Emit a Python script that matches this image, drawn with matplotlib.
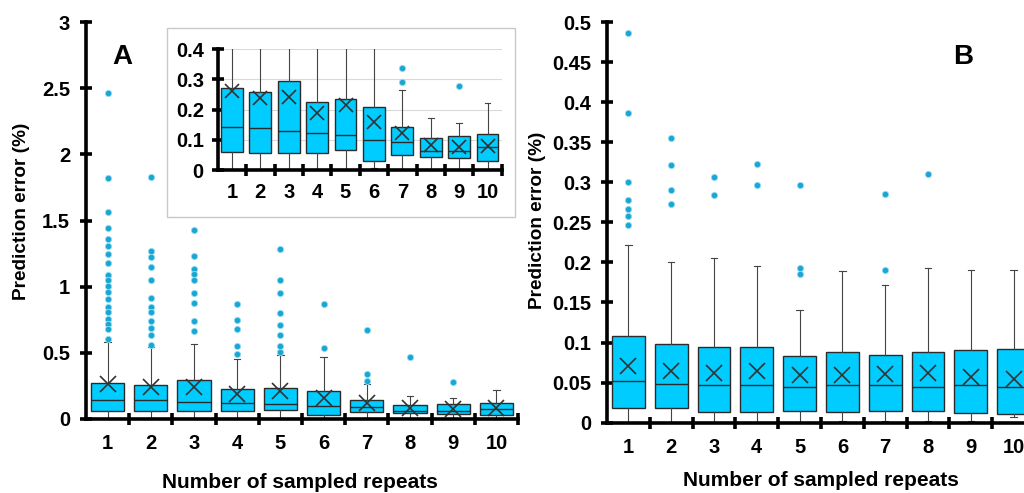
import matplotlib
matplotlib.use("Agg")
import matplotlib.pyplot as plt
from matplotlib.patches import Rectangle
from matplotlib.ticker import FixedLocator

plt.rcParams['font.family'] = ['Liberation Sans', 'DejaVu Sans']
plt.rcParams['font.weight'] = 'bold'

categories = [1, 2, 3, 4, 5, 6, 7, 8, 9, 10]

# Panel A statistics (prediction error, %)
a_q1 = [0.061, 0.057, 0.057, 0.057, 0.066, 0.031, 0.050, 0.043, 0.039, 0.031]
a_med = [0.143, 0.140, 0.130, 0.121, 0.117, 0.100, 0.091, 0.063, 0.063, 0.077]
a_q3 = [0.270, 0.257, 0.295, 0.226, 0.235, 0.208, 0.143, 0.105, 0.112, 0.118]
a_mean = [0.262, 0.239, 0.240, 0.187, 0.214, 0.160, 0.121, 0.083, 0.077, 0.080]
a_whislo = [0.0, 0.0, 0.0, 0.0, 0.0, 0.005, 0.0, 0.0, 0.0, 0.0]
a_whishi = [0.58, 0.545, 0.569, 0.457, 0.485, 0.47, 0.264, 0.171, 0.156, 0.220]
a_fliers = [
    [2.46, 1.82, 1.563, 1.442, 1.363, 1.305, 1.249, 1.180, 1.091, 1.051, 1.003,
     0.957, 0.906, 0.850, 0.805, 0.759, 0.718, 0.678, 0.607],
    [1.83, 1.266, 1.223, 1.152, 1.051, 0.911, 0.850, 0.810, 0.739, 0.688, 0.637, 0.558],
    [1.431, 1.231, 1.135, 1.094, 1.051, 0.949, 0.878, 0.739, 0.668],
    [0.868, 0.749, 0.680, 0.548, 0.490],
    [1.282, 1.051, 0.949, 0.799, 0.708, 0.637, 0.548, 0.505],
    [0.868, 0.538],
    [0.670, 0.337, 0.290],
    [0.467],
    [0.277],
    [],
]

# Panel B statistics (prediction error, %)
b_q1 = [0.0185, 0.0185, 0.0136, 0.0136, 0.0152, 0.0136, 0.0152, 0.0152, 0.012, 0.0107]
b_med = [0.052, 0.048, 0.0465, 0.0465, 0.045, 0.0465, 0.0465, 0.045, 0.0465, 0.045]
b_q3 = [0.108, 0.098, 0.095, 0.095, 0.0835, 0.0885, 0.085, 0.0885, 0.0905, 0.092]
b_mean = [0.071, 0.064, 0.062, 0.064, 0.059, 0.059, 0.061, 0.062, 0.057, 0.055]
b_whislo = [0.0, 0.0, 0.0, 0.0, 0.0, 0.002, 0.002, 0.002, 0.002, 0.0066]
b_whishi = [0.222, 0.201, 0.206, 0.195, 0.141, 0.189, 0.172, 0.193, 0.190, 0.190]
b_fliers = [
    [0.486, 0.386, 0.300, 0.278, 0.267, 0.258, 0.247],
    [0.355, 0.321, 0.290, 0.273],
    [0.307, 0.284],
    [0.323, 0.297],
    [0.297, 0.193, 0.186],
    [],
    [0.285, 0.191],
    [0.310],
    [],
    [],
]

a_yticks = [0, 0.5, 1, 1.5, 2, 2.5, 3]
a_yticklabels = ['0', '0.5', '1', '1.5', '2', '2.5', '3']
inset_yticks = [0, 0.1, 0.2, 0.3, 0.4]
inset_yticklabels = ['0', '0.1', '0.2', '0.3', '0.4']
b_yticks = [0, 0.05, 0.1, 0.15, 0.2, 0.25, 0.3, 0.35, 0.4, 0.45, 0.5]
b_yticklabels = ['0', '0.05', '0.1', '0.15', '0.2', '0.25', '0.3', '0.35', '0.4', '0.45', '0.5']

BOX_COLOR = '#00CCFF'
EDGE = '#2b2b2b'
FLIER_COLOR = '#1AA6D2'
TICK_FS = 14.5


def make_stats(q1, med, q3, mean, wlo, whi, fliers):
    stats = []
    for i in range(len(q1)):
        stats.append(dict(q1=q1[i], med=med[i], q3=q3[i], mean=mean[i],
                          whislo=wlo[i], whishi=whi[i], fliers=fliers[i]))
    return stats


def draw(ax, stats, xsize, fsize, lw_spine, ticklen, capw):
    ax.bxp(stats, positions=categories, widths=0.77, patch_artist=True,
           showmeans=True, showfliers=True, capwidths=capw,
           boxprops=dict(facecolor=BOX_COLOR, edgecolor=EDGE, linewidth=1.0),
           medianprops=dict(color=EDGE, linewidth=1.0),
           whiskerprops=dict(color='#444444', linewidth=0.8),
           capprops=dict(color='#444444', linewidth=0.8),
           meanprops=dict(marker='x', markeredgecolor='#333333', markersize=xsize,
                          markeredgewidth=1.2),
           flierprops=dict(marker='o', markerfacecolor=FLIER_COLOR,
                           markeredgecolor='#8fdcf2', markersize=fsize,
                           markeredgewidth=0.6))
    ax.set_xlim(0.5, 10.5)
    for s in ['top', 'right']:
        ax.spines[s].set_visible(False)
    for s in ['left', 'bottom']:
        ax.spines[s].set_linewidth(lw_spine)
        ax.spines[s].set_color('black')
    ax.xaxis.set_major_locator(FixedLocator([c + 0.5 for c in categories]))
    ax.xaxis.set_minor_locator(FixedLocator(categories))
    ax.set_xticklabels([])
    ax.set_xticklabels([str(c) for c in categories], minor=True)
    ax.tick_params(axis='x', which='major', direction='inout', length=ticklen,
                   width=lw_spine, color='black')
    ax.tick_params(axis='y', which='major', direction='inout', length=ticklen,
                   width=lw_spine, color='black')
    ax.tick_params(axis='x', which='minor', length=0)
    ax.patch.set_alpha(0)


fig = plt.figure(figsize=(10.24, 4.93), dpi=100)

# Panel A
axA = fig.add_axes([86 / 1024, 74 / 493, 432 / 1024, 397 / 493])
draw(axA, make_stats(a_q1, a_med, a_q3, a_mean, a_whislo, a_whishi, a_fliers),
     11, 4.5, 2.6, 9, 0.15)
axA.set_ylim(0, 3)
axA.set_yticks(a_yticks)
axA.set_yticklabels(a_yticklabels)
axA.tick_params(axis='both', which='both', labelsize=TICK_FS)
axA.tick_params(axis='y', pad=7)
axA.tick_params(axis='x', which='minor', pad=11)
for t in axA.get_yticklabels() + axA.get_xticklabels(minor=True):
    t.set_fontweight('bold')

# Inset frame
frame = Rectangle((167 / 1024, 276 / 493), 348 / 1024, 189 / 493,
                  transform=fig.transFigure, facecolor='white',
                  edgecolor='#c8c8c8', linewidth=1.0, zorder=1)
fig.add_artist(frame)

axI = fig.add_axes([217.7 / 1024, 323 / 493, 284 / 1024, 121 / 493])
axI.set_zorder(2)
axI.set_axisbelow(True)
axI.yaxis.grid(True, color='#d9d9d9', linewidth=0.8)
draw(axI, make_stats(a_q1, a_med, a_q3, a_mean, a_whislo, a_whishi, a_fliers),
     10, 4.5, 2.6, 8, 0.2)
axI.set_ylim(0, 0.4)
axI.set_yticks(inset_yticks)
axI.set_yticklabels(inset_yticklabels)
axI.tick_params(axis='both', which='both', labelsize=TICK_FS)
axI.tick_params(axis='y', pad=6)
axI.tick_params(axis='x', which='minor', pad=9)
for t in axI.get_yticklabels() + axI.get_xticklabels(minor=True):
    t.set_fontweight('bold')

# Panel B
axB = fig.add_axes([607 / 1024, 70.3 / 493, 428 / 1024, 400.7 / 493])
draw(axB, make_stats(b_q1, b_med, b_q3, b_mean, b_whislo, b_whishi, b_fliers),
     11, 4.5, 2.6, 9, 0.15)
axB.set_ylim(0, 0.5)
axB.set_yticks(b_yticks)
axB.set_yticklabels(b_yticklabels)
axB.tick_params(axis='both', which='both', labelsize=TICK_FS)
axB.tick_params(axis='y', pad=7)
axB.tick_params(axis='x', which='minor', pad=11)
for t in axB.get_yticklabels() + axB.get_xticklabels(minor=True):
    t.set_fontweight('bold')

# Labels
fig.text(22 / 1024, 1 - 211 / 493, 'Prediction error (%)', rotation=90,
         ha='center', va='center', fontsize=13.7, fontweight='bold')
fig.text(538 / 1024, 1 - 220 / 493, 'Prediction error (%)', rotation=90,
         ha='center', va='center', fontsize=13.7, fontweight='bold')
fig.text(300 / 1024, 1 - 483 / 493, 'Number of sampled repeats',
         ha='center', va='center', fontsize=15, fontweight='bold')
fig.text(821 / 1024, 1 - 481 / 493, 'Number of sampled repeats',
         ha='center', va='center', fontsize=15, fontweight='bold')
fig.text(122 / 1024, 1 - 57 / 493, 'A', ha='center', va='center',
         fontsize=20, fontweight='bold')
fig.text(963 / 1024, 1 - 57 / 493, 'B', ha='center', va='center',
         fontsize=20, fontweight='bold')

fig.savefig('out.png', dpi=100)
